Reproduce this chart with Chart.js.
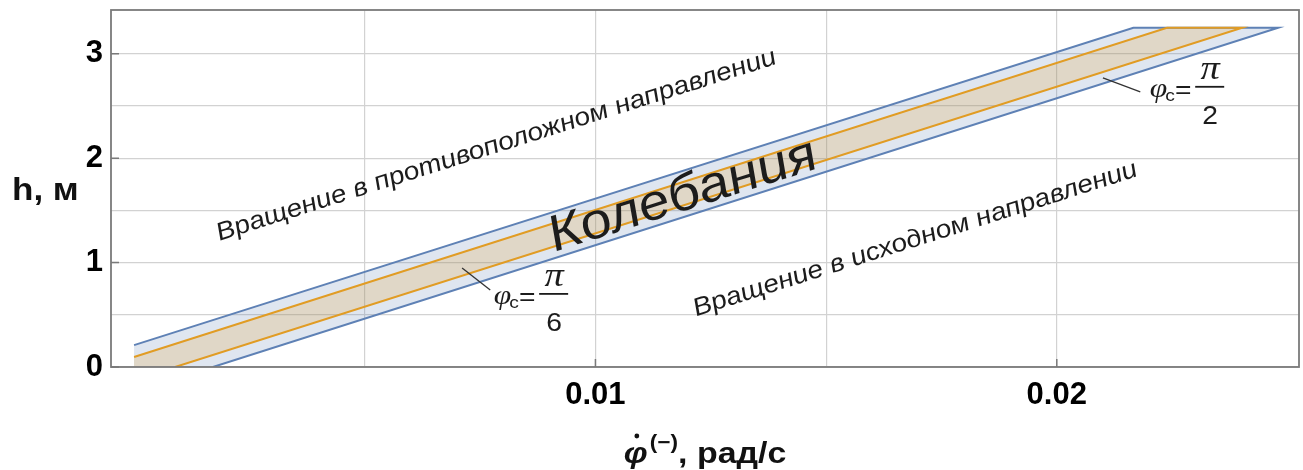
<!DOCTYPE html>
<html>
<head>
<meta charset="utf-8">
<script src="https://cdn.jsdelivr.net/npm/chart.js@4.4.1/dist/chart.umd.min.js"></script>
<style>
  html, body { margin: 0; padding: 0; background: #fff; }
  canvas { display: block; }
</style>
</head>
<body>
<canvas id="zoneChart" width="1303" height="470"></canvas>
<script>
// outer boundary, phi_c = pi/2 (blue): left edge -> top corner -> top right -> down to h = 0
const bluePhi = [0, 0.02166, 0.02480, 0.00171];
const blueH = [0.21, 3.25, 3.25, 0];
// inner boundary, phi_c = pi/6 (orange)
const orangePhi = [0, 0.02239, 0.02402, 0.00089];
const orangeH = [0.096, 3.25, 3.25, 0];

const xGrid = [0.005, 0.01, 0.015, 0.02];
const xLabels = [0.01, 0.02];
const yGrid = [0, 0.5, 1, 1.5, 2, 2.5, 3];
const yLabels = [0, 1, 2, 3];

// rotated captions, anchored at the middle of their baseline (phi, h)
const captionText = ['Вращение в противоположном направлении', 'Колебания', 'Вращение в исходном направлении'];
const captionPhi = [0.00791, 0.01201, 0.01699];
const captionH = [2.06, 1.51, 1.16];
const captionSize = [25, 50, 25];

// phi_c = pi/n callouts: pointer start, pointer end, centre of "="
const calloutDenom = ['6', '2'];
const calloutFrom = [[0.00711, 0.949], [0.02100, 2.770]];
const calloutTo = [[0.00772, 0.738], [0.02181, 2.636]];
const calloutEq = [[0.00852, 0.661], [0.02274, 2.645]];

const SX = 1.13; // the source figure is a little wider than tall
const SANS = '"Liberation Sans", Arial, sans-serif';
const SERIF = '"Liberation Serif", "Times New Roman", serif';

const toPoints = (xs, ys) => xs.map((x, i) => ({ x: x, y: ys[i] }));
const closedShape = (xs, ys) => [{ x: xs[0], y: 0 }].concat(toPoints(xs, ys));

function textAt(ctx, text, x, y, font, align, baseline, angle) {
  ctx.save();
  ctx.translate(x, y);
  ctx.scale(SX, 1);
  if (angle) ctx.rotate(Math.atan(SX * Math.tan(angle)));
  ctx.font = font;
  ctx.textAlign = align;
  ctx.textBaseline = baseline;
  ctx.fillText(text, 0, 0);
  ctx.restore();
}

// no extra room for half tick labels: the frame is fixed
function noPad(s) {
  s.paddingTop = 0;
  s.paddingBottom = 0;
  s.paddingLeft = 0;
  s.paddingRight = 0;
}

const decorations = {
  id: 'decorations',
  afterDatasetsDraw(chart) {
    const { ctx, chartArea: a, scales: { x, y } } = chart;

    // frame + inward ticks
    ctx.save();
    ctx.strokeStyle = '#7a7a7a';
    ctx.lineWidth = 1.8;
    ctx.strokeRect(a.left, a.top, a.right - a.left, a.bottom - a.top);
    ctx.lineWidth = 1.5;
    ctx.beginPath();
    yLabels.forEach(v => {
      const py = y.getPixelForValue(v);
      ctx.moveTo(a.left, py);
      ctx.lineTo(a.left + 8, py);
    });
    xLabels.forEach(v => {
      const px = x.getPixelForValue(v);
      ctx.moveTo(px, a.bottom);
      ctx.lineTo(px, a.bottom - 8);
    });
    ctx.stroke();
    ctx.restore();

    // slope of the band in pixels
    const angle = Math.atan2(
      y.getPixelForValue(blueH[1]) - y.getPixelForValue(blueH[0]),
      x.getPixelForValue(bluePhi[1]) - x.getPixelForValue(bluePhi[0])
    );

    ctx.save();
    ctx.fillStyle = '#1c1c1c';
    captionText.forEach((t, i) => {
      textAt(ctx, t, x.getPixelForValue(captionPhi[i]), y.getPixelForValue(captionH[i]),
        'italic ' + captionSize[i] + 'px ' + SANS, 'center', 'alphabetic', angle);
    });
    ctx.restore();

    // callouts
    calloutDenom.forEach((d, i) => {
      ctx.save();
      ctx.strokeStyle = '#333';
      ctx.lineWidth = 1.3;
      ctx.beginPath();
      ctx.moveTo(x.getPixelForValue(calloutFrom[i][0]), y.getPixelForValue(calloutFrom[i][1]));
      ctx.lineTo(x.getPixelForValue(calloutTo[i][0]), y.getPixelForValue(calloutTo[i][1]));
      ctx.stroke();

      const ex = x.getPixelForValue(calloutEq[i][0]);
      const ey = y.getPixelForValue(calloutEq[i][1]);
      ctx.fillStyle = '#1c1c1c';
      textAt(ctx, 'φ', ex - 16, ey + 6, 'italic 28px ' + SERIF, 'right', 'alphabetic', 0);
      textAt(ctx, 'c', ex - 18, ey + 10, '17px ' + SANS, 'left', 'alphabetic', 0);
      textAt(ctx, '=', ex, ey, '25px ' + SANS, 'center', 'middle', 0);
      ctx.fillRect(ex + 12, ey - 5, 29, 1.8);
      textAt(ctx, 'π', ex + 27, ey - 12, 'italic 34px ' + SERIF, 'center', 'alphabetic', 0);
      textAt(ctx, d, ex + 27, ey + 33, '25px ' + SANS, 'center', 'alphabetic', 0);
      ctx.restore();
    });
  },
  afterDraw(chart) {
    const { ctx, chartArea: a } = chart;
    ctx.save();
    ctx.fillStyle = '#111';
    // y title, horizontal
    textAt(ctx, 'h, м', 12, 200, 'bold 31px ' + SANS, 'left', 'alphabetic', 0);

    // x title: phi-dot with superscript (−), then units
    const fMain = 'bold italic 30px ' + SANS;
    const fSup = 'bold 20px ' + SANS;
    const fUnit = 'bold 30px ' + SANS;
    ctx.font = fMain; const w1 = ctx.measureText('φ').width;
    ctx.font = fSup; const w2 = ctx.measureText('(−)').width;
    ctx.font = fUnit; const w3 = ctx.measureText(', рад/с').width;
    const total = (w1 + 2 + w2 + w3) * SX;
    let cx = (a.left + a.right) / 2 - total / 2;
    const base = 463;
    textAt(ctx, 'φ', cx, base, fMain, 'left', 'alphabetic', 0);
    ctx.beginPath();
    ctx.arc(cx + w1 * SX * 0.55, base - 27, 2.4, 0, Math.PI * 2);
    ctx.fill();
    cx += (w1 + 2) * SX;
    textAt(ctx, '(−)', cx, base - 14, fSup, 'left', 'alphabetic', 0);
    cx += w2 * SX;
    textAt(ctx, ', рад/с', cx, base, fUnit, 'left', 'alphabetic', 0);
    ctx.restore();
  }
};

const tickFont = { family: SANS, size: 31, weight: 'bold' };
const gridColor = '#d2d2d2';

new Chart(document.getElementById('zoneChart'), {
  type: 'scatter',
  data: {
    datasets: [
      {
        label: 'φc = π/2 zone',
        data: closedShape(bluePhi, blueH),
        showLine: true,
        fill: 'shape',
        backgroundColor: 'rgba(94, 129, 181, 0.2)',
        borderWidth: 0,
        pointRadius: 0,
        order: 4
      },
      {
        label: 'φc = π/6 zone',
        data: closedShape(orangePhi, orangeH),
        showLine: true,
        fill: 'shape',
        backgroundColor: 'rgba(225, 156, 36, 0.2)',
        borderWidth: 0,
        pointRadius: 0,
        order: 3
      },
      {
        label: 'φc = π/2',
        data: toPoints(bluePhi, blueH),
        showLine: true,
        fill: false,
        borderColor: '#5e81b5',
        borderWidth: 2,
        pointRadius: 0,
        order: 2
      },
      {
        label: 'φc = π/6',
        data: toPoints(orangePhi, orangeH),
        showLine: true,
        fill: false,
        borderColor: '#e19c24',
        borderWidth: 2,
        pointRadius: 0,
        order: 1
      }
    ]
  },
  options: {
    responsive: false,
    animation: false,
    layout: { padding: { left: 0, right: 4, top: 10, bottom: 0 } },
    plugins: {
      legend: { display: false },
      tooltip: { enabled: false }
    },
    scales: {
      x: {
        type: 'linear',
        min: -0.0005,
        max: 0.02525,
        afterBuildTicks: s => { s.ticks = xGrid.map(v => ({ value: v })); },
        afterFit: s => { s.height = 103; noPad(s); },
        border: { display: false },
        grid: { color: gridColor, lineWidth: 1.2, drawTicks: false },
        ticks: {
          autoSkip: false,
          maxRotation: 0,
          padding: 10,
          color: '#000',
          font: tickFont,
          callback: v => xLabels.includes(v) ? v.toFixed(2) : ''
        }
      },
      y: {
        min: 0,
        max: 3.42,
        afterBuildTicks: s => { s.ticks = yGrid.map(v => ({ value: v })); },
        afterFit: s => { s.width = 111; noPad(s); },
        border: { display: false },
        grid: { color: gridColor, lineWidth: 1.2, drawTicks: false },
        ticks: {
          padding: 8,
          color: '#000',
          font: tickFont,
          callback: v => yLabels.includes(v) ? String(v) : ''
        }
      }
    }
  },
  plugins: [decorations]
});
</script>
</body>
</html>
